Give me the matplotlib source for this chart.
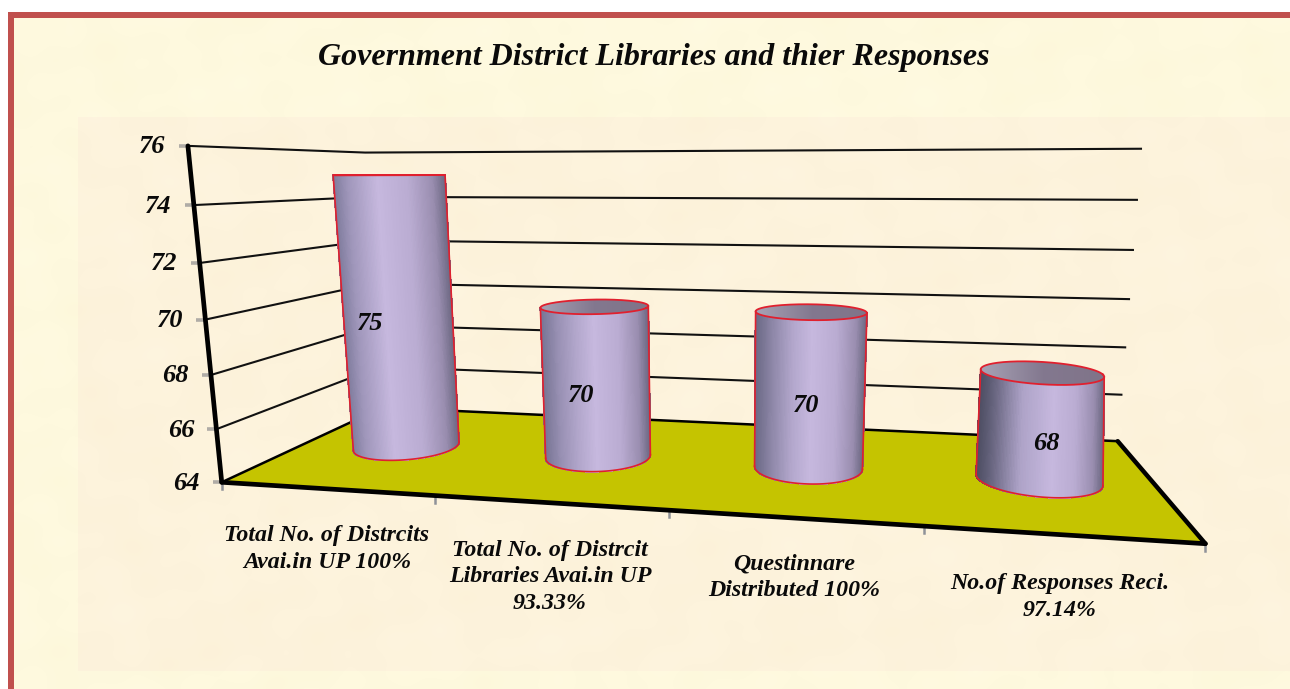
import numpy as np
import matplotlib
matplotlib.use("Agg")
import matplotlib.pyplot as plt
from matplotlib.collections import PolyCollection
from matplotlib.colors import LinearSegmentedColormap
from matplotlib.patches import Polygon, Rectangle

# ---------- data ----------
title = "Government District Libraries and thier Responses"
categories = ["Total No. of Distrcits\nAvai.in UP 100%",
              "Total No. of Distrcit\nLibraries Avai.in UP\n93.33%",
              "Questinnare\nDistributed 100%",
              "No.of Responses Reci.\n97.14%"]
values = [75, 70, 70, 68]
y_ticks = [64, 66, 68, 70, 72, 74, 76]

# ---------- layout / camera calibration ----------
W, H = 1290, 689
YMIN, YMAX = y_ticks[0], y_ticks[-1]
# (cat-fraction, depth, height-fraction) <-> pixel
CAL = [((0, 0, 0), (222, 482)), ((0, 0, 1), (188, 145)),
       ((0, 1, 0), (382, 408)), ((0, 1, 1), (365, 153)),
       ((1, 1, 0), (1118, 440)), ((1, 1, 1), (1141, 149)),
       ((1, 0, 0), (1205, 545))]
A = []
for (X, Y, Z), (px, py) in CAL:
    A.append([X, Y, Z, 1, 0, 0, 0, 0, -px * X, -px * Y, -px * Z, -px])
    A.append([0, 0, 0, 0, X, Y, Z, 1, -py * X, -py * Y, -py * Z, -py])
P = np.linalg.svd(np.array(A, float))[2][-1].reshape(3, 4)


def project(u, w, val):
    u, w, val = np.broadcast_arrays(np.asarray(u, float), np.asarray(w, float), np.asarray(val, float))
    z = (val - YMIN) / (YMAX - YMIN)
    q = np.stack([u, w, z, np.ones_like(u)])
    r = P @ q.reshape(4, -1)
    return (r[0] / r[2]).reshape(u.shape), (r[1] / r[2]).reshape(u.shape)


fig = plt.figure(figsize=(W / 100, H / 100), dpi=100, facecolor="white")
ax = fig.add_axes([0, 0, 1, 1])
ax.set_xlim(0, W)
ax.set_ylim(H, 0)
ax.axis("off")

FONT = dict(family="Liberation Serif", weight="bold", style="italic", color="#0a0a0a")

# ---------- background ----------
yy, xx = np.mgrid[0:H, 0:W]
tex = (np.sin(xx / 37.0 + np.sin(yy / 53.0) * 2) * np.sin(yy / 29.0 + np.cos(xx / 61.0) * 2)
       + 0.6 * np.sin(xx / 13.0 + yy / 17.0) * np.cos(yy / 11.0 - xx / 23.0)) / 1.6


def textured(base, amp=1.6):
    return np.clip((np.array(base)[None, None, :] + amp * tex[..., None] * np.array([0.4, 0.8, 1.8])) / 255, 0, 1)


ax.imshow(textured((254, 249, 222)), extent=(0, W, H, 0), zorder=0, aspect="auto", interpolation="bilinear")
panel = ax.imshow(textured((253, 243, 220)), extent=(0, W, H, 0), zorder=0.5, aspect="auto", interpolation="bilinear")
panel.set_clip_path(Rectangle((78, 117), W - 78, 671 - 117, transform=ax.transData))
ax.add_patch(Rectangle((0, 0), W, 12, fc="white", ec="none", zorder=1))
ax.add_patch(Rectangle((0, 0), 8, H, fc="white", ec="none", zorder=1))
ax.add_patch(Rectangle((8, 12), W, 6, fc="#c0504d", ec="none", zorder=1))
ax.add_patch(Rectangle((8, 12), 6, H, fc="#c0504d", ec="none", zorder=1))

ax.text(654, 58, title, ha="center", va="center", fontsize=23, **FONT)

# ---------- floor ----------
corners_u = [0, 1, 1, 0]
corners_w = [0, 0, 1, 1]
fx, fy = project(corners_u, corners_w, YMIN)
ax.add_patch(Polygon(np.c_[fx, fy], closed=True, fc="#c5c400", ec="none", zorder=2))
ax.plot([fx[0], fx[3]], [fy[0], fy[3]], color="black", lw=1.8, zorder=3)
ax.plot([fx[3], fx[2]], [fy[3], fy[2]], color="black", lw=1.8, zorder=3)
ax.plot([fx[1], fx[2]], [fy[1], fy[2]], color="black", lw=3.2, zorder=3, solid_capstyle="round")
ax.plot([fx[0], fx[1]], [fy[0], fy[1]], color="black", lw=3.4, zorder=3.1, solid_capstyle="round")

# ---------- walls ----------
for t in y_ticks[1:]:
    gx, gy = project([0, 0, 1], [0, 1, 1], [t, t, t])
    ax.plot(gx, gy, color="#111111", lw=1.5, zorder=2.5, solid_joinstyle="round")
    tx, ty = project(0, 0, t)
    ax.plot([tx - 9, tx], [ty, ty], color="#b0aca6", lw=2.6, zorder=2.4, solid_capstyle="butt")
for t in y_ticks:
    tx, ty = project(0, 0, t)
    if t == YMIN:
        ax.plot([tx - 9, tx], [ty, ty], color="#b0aca6", lw=2.6, zorder=2.4, solid_capstyle="butt")
    ax.text(tx - 35.5, ty + 1, str(t), ha="center", va="center", fontsize=19, **FONT)
ax_x, ax_y = project([0, 0], [0, 0], [YMIN, YMAX])
ax.plot(ax_x, ax_y, color="black", lw=3.4, zorder=3.2, solid_capstyle="round")

# x ticks on the front edge
for i in range(len(categories) + 1):
    tx, ty = project(i / len(categories), 0, YMIN)
    ax.plot([tx, tx], [ty, ty + 7], color="#8f9299", lw=1.8, zorder=2.9)

# ---------- cylinders ----------
cmap = LinearSegmentedColormap.from_list("cyl", [
    (0.00, "#7d7a9b"), (0.15, "#9f96ba"), (0.45, "#c6b8de"), (0.70, "#baacd2"),
    (0.90, "#9a8eb0"), (1.00, "#706b86")])
cap_cmap = LinearSegmentedColormap.from_list("cap", ["#a7a2b5", "#83788f", "#807489"])
left_dark = [0.0, 0.15, 0.4, 1.0]      # strength of the dark left side
peak = [0.40, 0.50, 0.52, 0.60]        # where the highlight sits
radius_u = [0.0625, 0.062, 0.0615, 0.063]
base_scale = [1.0, 1.0, 1.0, 1.05]
shift_u = [0.005, 0.001, 0.001, 0.0]
base_shift_u = [0.0, 0.0, 0.0, 0.004]
label_shift_u = [0.0, 0.002, 0.001, -0.001]
RW, W0 = 0.18, 0.49
LABEL_W = 0.30
theta = np.linspace(0, 2 * np.pi, 361)[:-1]


def arc(u0, ru, val):
    x, y = project(u0 + ru * np.cos(theta), W0 + RW * np.sin(theta), val)
    il, ir = np.argmin(x), np.argmax(x)
    # walk from the leftmost to the rightmost point through the front (sin < 0)
    idx = np.arange(il, il + 361) % 360
    n = (ir - il) % 360
    idx = idx[: n + 1]
    return x, y, x[idx], y[idx]


def resample(a, n):
    return np.interp(np.linspace(0, 1, n), np.linspace(0, 1, len(a)), a)


N = 120
dark = np.array([0.30, 0.30, 0.38, 1])
for i, v in enumerate(values):
    str_d, pk, ru = left_dark[i], peak[i], radius_u[i]
    u0 = (i + 0.5) / len(values) + shift_u[i]
    bx, by, bax, bay = arc(u0 + base_shift_u[i], ru * base_scale[i], YMIN)
    tx, ty, tax, tay = arc(u0, ru, v)
    bax, bay, tax, tay = [resample(a, N + 1) for a in (bax, bay, tax, tay)]
    outline = np.r_[np.c_[tax, tay], np.c_[bax, bay][::-1]]
    ax.add_patch(Polygon(outline, closed=True, fc="#b0a4c6", ec="none", zorder=3.9))
    quads, cols = [], []
    for k in range(N):
        quads.append([(tax[k], tay[k]), (tax[k + 1], tay[k + 1]), (bax[k + 1], bay[k + 1]), (bax[k], bay[k])])
        f = (0.5 * (tax[k] + tax[k + 1]) - tax[0]) / (tax[-1] - tax[0])
        g = 0.45 * f / pk if f < pk else 0.45 + 0.55 * (f - pk) / (1 - pk)
        c = np.array(cmap(g))
        mix = str_d * max(0.0, 1 - f / 0.36) ** 1.2
        cols.append(c * (1 - mix) + dark * mix)
    ax.add_collection(PolyCollection(quads, facecolors=cols, edgecolors=cols, linewidths=0.7,
                                     antialiaseds=False, zorder=4))
    # cap with horizontal gradient
    cap = ax.imshow(np.linspace(0, 1, 200)[None, :], cmap=cap_cmap, aspect="auto", zorder=4.1,
                    extent=(tx.min(), tx.max(), ty.max(), ty.min()))
    cap_poly = Polygon(np.c_[tx, ty], closed=True, transform=ax.transData, fc="none", ec="none")
    ax.add_patch(cap_poly)
    cap.set_clip_path(cap_poly)
    ax.plot(np.r_[tx, tx[0]], np.r_[ty, ty[0]], color="#e0202e", lw=1.3, zorder=4.3)
    ax.plot([tax[0], bax[0]], [tay[0], bay[0]], color="#e0202e", lw=1.2, zorder=4.3)
    ax.plot([tax[-1], bax[-1]], [tay[-1], bay[-1]], color="#e0202e", lw=1.2, zorder=4.3)
    ax.plot(bax, bay, color="#e0202e", lw=1.2, zorder=4.3)
    mx, my = project(u0 + label_shift_u[i], LABEL_W, YMIN + (v - YMIN) * 0.5)
    ax.text(mx, my + 1, str(v), ha="center", va="center", fontsize=19, zorder=5, **FONT)

# ---------- category labels ----------
label_x = [327, 550, 794, 1060]
label_y = [549, 577, 577, 597]
for s, lx, ly in zip(categories, label_x, label_y):
    ax.text(lx, ly, s, ha="center", va="center", fontsize=17.2, linespacing=1.37, **FONT)

ax.set_xlim(0, W)
ax.set_ylim(H, 0)
fig.savefig("out.png", dpi=100)
